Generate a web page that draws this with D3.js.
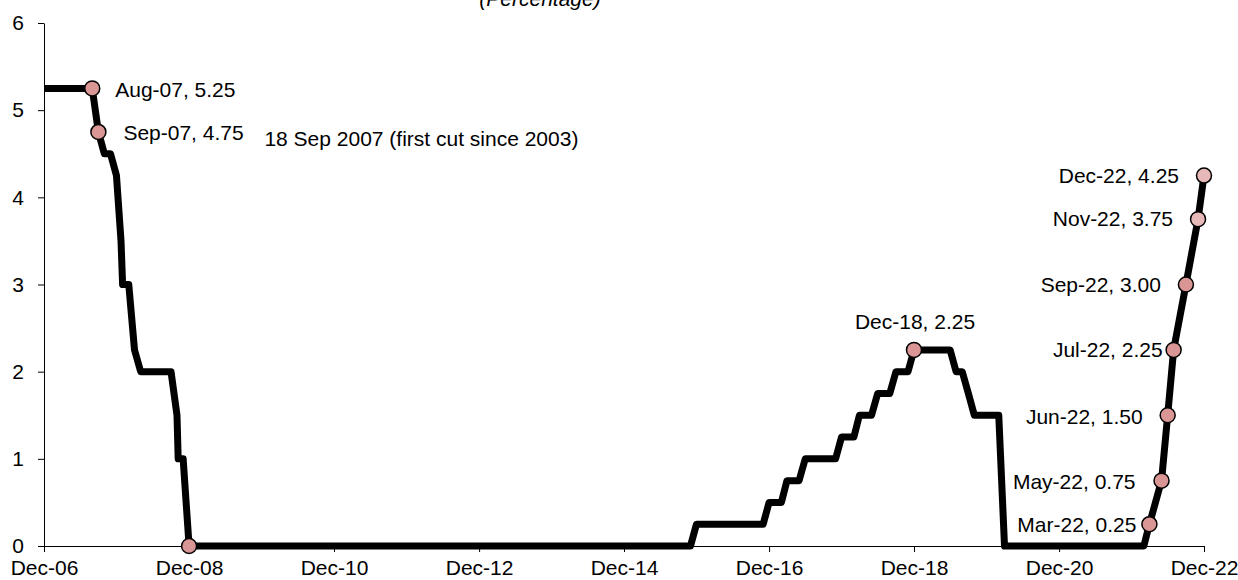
<!DOCTYPE html>
<html><head><meta charset="utf-8">
<script src="https://cdn.jsdelivr.net/npm/d3@7"></script>
<style>
body{margin:0;background:#fff}
svg text{font-family:"Liberation Sans",Arial,sans-serif;fill:#000}
</style>
</head><body>
<svg id="c" width="1238" height="580"></svg>
<script>
// ---- data ----
const rateDates = ["2006-12-01","2007-08-01","2007-09-01","2007-10-01","2007-11-01","2007-12-01","2007-12-24","2008-01-01","2008-02-01","2008-03-01","2008-04-01","2008-09-01","2008-10-01","2008-10-07","2008-11-01","2008-12-01","2015-11-01","2015-12-01","2016-11-01","2016-12-01","2017-02-01","2017-03-01","2017-05-01","2017-06-01","2017-11-01","2017-12-01","2018-02-01","2018-03-01","2018-05-01","2018-06-01","2018-08-01","2018-09-01","2018-11-01","2018-12-01","2019-06-01","2019-07-01","2019-08-01","2019-09-01","2019-10-01","2020-02-01","2020-03-01","2022-02-01","2022-03-01","2022-05-01","2022-06-01","2022-07-01","2022-09-01","2022-11-01","2022-12-01"];
const rateValues = [5.25,5.25,4.75,4.5,4.5,4.25,3.5,3.0,3.0,2.25,2.0,2.0,1.5,1.0,1.0,0,0,0.25,0.25,0.5,0.5,0.75,0.75,1.0,1.0,1.25,1.25,1.5,1.5,1.75,1.75,2.0,2.0,2.25,2.25,2.0,2.0,1.75,1.5,1.5,0,0,0.25,0.75,1.5,2.25,3.0,3.75,4.25];

const markerDates = ["2007-08-01","2007-09-01","2008-12-01","2018-12-01","2022-03-01","2022-05-01","2022-06-01","2022-07-01","2022-09-01","2022-11-01","2022-12-01"];
const markerValues = [5.25,4.75,0,2.25,0.25,0.75,1.50,2.25,3.00,3.75,4.25];
const markerLabels = ["Aug-07, 5.25","Sep-07, 4.75","","Dec-18, 2.25","Mar-22, 0.25","May-22, 0.75","Jun-22, 1.50","Jul-22, 2.25","Sep-22, 3.00","Nov-22, 3.75","Dec-22, 4.25"];

const yTickValues = [0,1,2,3,4,5,6];
const xTickLabels = ["Dec-06","Dec-08","Dec-10","Dec-12","Dec-14","Dec-16","Dec-18","Dec-20","Dec-22"];
const noteText = "18 Sep 2007 (first cut since 2003)";
const titleText = "(Percentage)";

// ---- styling / layout ----
const mLeft = 44, mRight = 1204, mTop = 23, mBottom = 546;
const FS = 21;
const darkFill = "#D99694", lightFill = "#E6B9B8";
const lightMarkers = ["Nov-22, 3.75","Dec-22, 4.25"];
// label placement per marker: [anchor, dx, dy]
const labelPos = {
  "Aug-07, 5.25":["start",23,1],
  "Sep-07, 4.75":["start",25,1],
  "Dec-18, 2.25":["middle",1,-28],
  "Mar-22, 0.25":["end",-13,0],
  "May-22, 0.75":["end",-26,1],
  "Jun-22, 1.50":["end",-25,1],
  "Jul-22, 2.25":["end",-11,0],
  "Sep-22, 3.00":["end",-25,0],
  "Nov-22, 3.75":["end",-25,0],
  "Dec-22, 4.25":["end",-25,0]
};

const parseD = d3.timeParse("%Y-%m-%d");
const parseTick = d3.timeParse("%b-%y");
const tickDates = xTickLabels.map(parseTick);

const x = d3.scaleTime().domain([tickDates[0], tickDates[tickDates.length-1]]).range([mLeft, mRight]);
const y = d3.scaleLinear().domain([0, 6]).range([mBottom, mTop]);

const svg = d3.select("#c");

// title
svg.append("text").attr("x", 540).attr("y", 6).attr("text-anchor","middle")
  .style("font-size", FS+"px").style("font-style","italic").text(titleText);

// axes
const yAxis = d3.axisLeft(y).tickValues(yTickValues).tickSize(6).tickSizeOuter(0).tickPadding(14).tickFormat(d3.format("d"));
const gy = svg.append("g").attr("transform", `translate(${mLeft},0)`).call(yAxis);
gy.selectAll("text").style("font-size", FS+"px");
gy.selectAll("path,line").attr("stroke","#000");

const xAxis = d3.axisBottom(x).tickValues(tickDates).tickSize(6).tickSizeOuter(0).tickPadding(8)
  .tickFormat((d,i) => xTickLabels[i]);
const gx = svg.append("g").attr("transform", `translate(0,${mBottom})`).call(xAxis);
gx.selectAll("text").style("font-size", FS+"px");
gx.selectAll("path,line").attr("stroke","#000");

// line
const pts = rateDates.map((d,i) => ({date: parseD(d), v: rateValues[i]}));
const line = d3.line().x(d => x(d.date)).y(d => y(d.v));
svg.append("path").datum(pts).attr("d", line)
  .attr("fill","none").attr("stroke","#000").attr("stroke-width",7)
  .attr("stroke-linejoin","round").attr("stroke-linecap","butt");

// markers
const mk = markerDates.map((d,i) => ({date: parseD(d), v: markerValues[i], label: markerLabels[i]}));
svg.selectAll("circle.m").data(mk).join("circle").attr("class","m")
  .attr("cx", d => x(d.date)).attr("cy", d => y(d.v)).attr("r", 7.5)
  .attr("fill", d => lightMarkers.includes(d.label) ? lightFill : darkFill)
  .attr("stroke","#000").attr("stroke-width",1.5);

// labels
svg.selectAll("text.lab").data(mk.filter(d => d.label)).join("text").attr("class","lab")
  .attr("x", d => x(d.date) + labelPos[d.label][1])
  .attr("y", d => y(d.v) + labelPos[d.label][2])
  .attr("dy","0.35em")
  .attr("text-anchor", d => labelPos[d.label][0])
  .style("font-size", FS+"px")
  .text(d => d.label);

// note next to Sep-07
const sep = mk[1];
svg.append("text").attr("x", x(sep.date) + 166).attr("y", y(sep.v) + 7).attr("dy","0.35em")
  .style("font-size", FS+"px").text(noteText);
</script>
</body></html>
